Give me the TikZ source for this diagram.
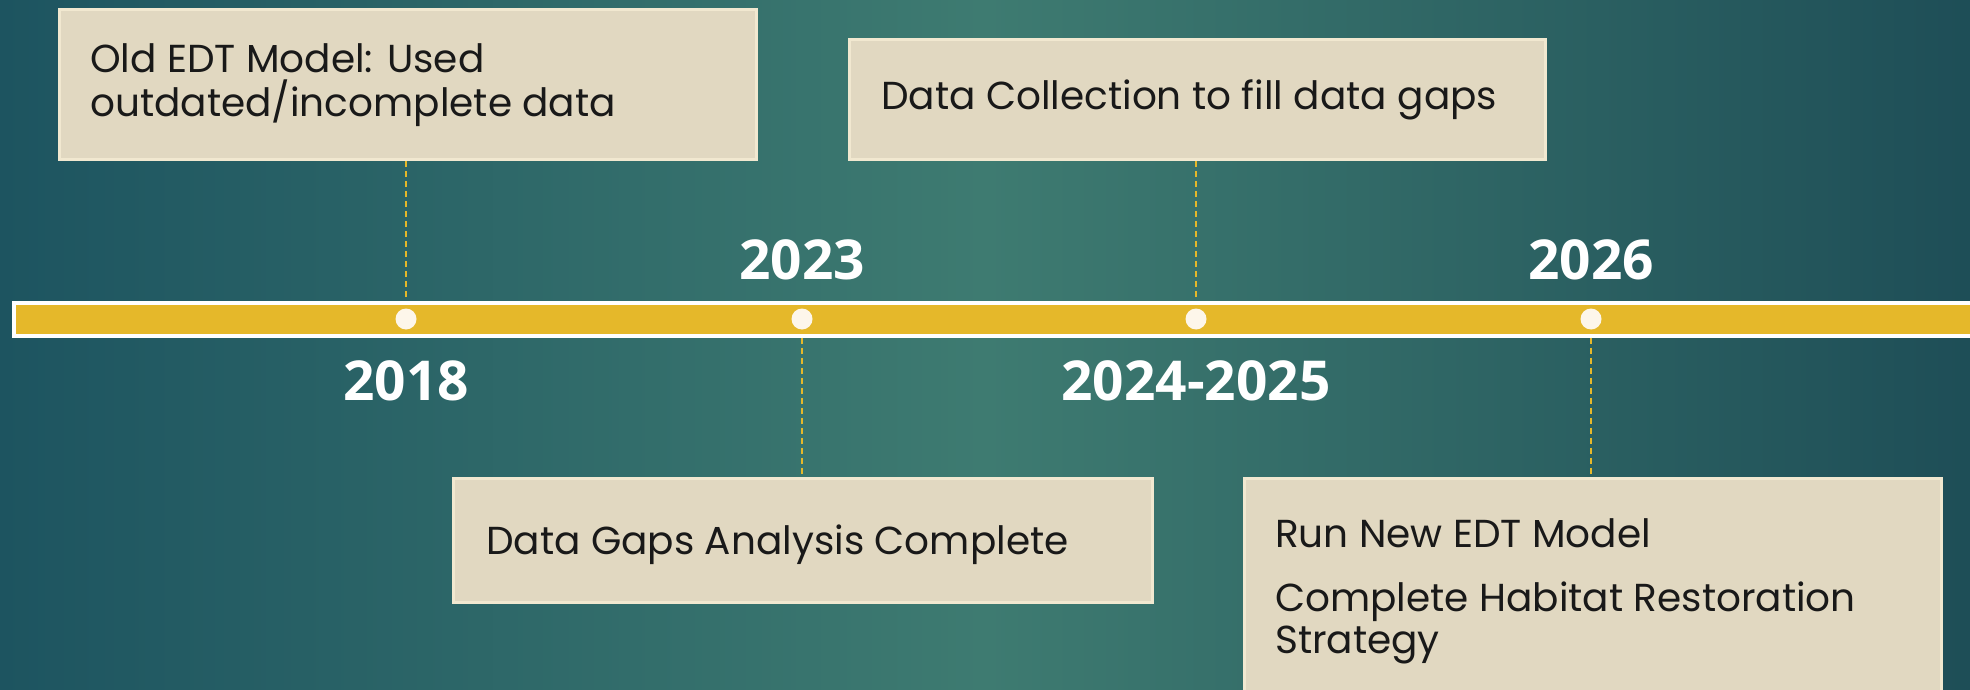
\documentclass[tikz,border=0pt]{standalone}
\usepackage{fontspec}
\newfontfamily\boxfont{Poppins}
\newfontfamily\yearfont{Open Sans}
\definecolor{bgdark}{HTML}{1D5460}
\definecolor{bgmid}{HTML}{3E7B71}
\definecolor{bgright}{HTML}{1E4E57}
\definecolor{gold}{HTML}{E5B82A}
\definecolor{beige}{HTML}{E1D8C1}
\definecolor{beigeedge}{HTML}{F1E8D0}
\definecolor{dotc}{HTML}{FDF6EA}
\tikzset{
  card/.style={draw=beigeedge, line width=3pt, fill=beige, inner sep=0pt, anchor=north west},
  cardtext/.style={font=\boxfont\fontsize{39}{47}\selectfont, text=black!90, anchor=base west, inner sep=0pt},
  year/.style={font=\yearfont\bfseries\fontsize{55}{60}\selectfont, text=white, anchor=base, inner sep=0pt},
  dotnode/.style={circle, fill=dotc, minimum size=21pt, inner sep=0pt},
  link/.style={draw=gold, line width=1.3pt, dash pattern=on 6pt off 4pt},
}
\begin{document}
\begin{tikzpicture}[x=1pt,y=-1pt]
\useasboundingbox (0,0) rectangle (1970,690);
\clip (0,0) rectangle (1970,690);
\shade[left color=bgdark, right color=bgright, middle color=bgmid] (0,0) rectangle (1970,690);
% cards
\node[card, minimum width=697pt, minimum height=150pt] (b1) at (58,8) {};
\node[card, minimum width=696pt, minimum height=120pt] (b2) at (848,38) {};
\node[card, minimum width=699pt, minimum height=124pt] (b3) at (452,477) {};
\node[card, minimum width=697pt, minimum height=240pt] (b4) at (1243,477) {};
% bar
\node[draw=white, line width=4pt, fill=gold, minimum width=1980pt, minimum height=33pt, inner sep=0pt, anchor=west] (bar) at (12,319) {};
% dots
\node[dotnode] (d1) at (406,319) {};
\node[dotnode] (d2) at (802,319) {};
\node[dotnode] (d3) at (1196,319) {};
\node[dotnode] (d4) at (1591,319) {};
% connectors
\draw[link] (b1.south -| d1) -- (d1 |- bar.north);
\draw[link] (b2.south -| d3) -- (d3 |- bar.north);
\draw[link] (d2 |- bar.south) -- (b3.north -| d2);
\draw[link] (d4 |- bar.south) -- (b4.north -| d4);
% texts
\node[cardtext] (t1a) at (90,73) {Old EDT Model: Used};
\node[cardtext] (t1b) at (90,117) {outdated/incomplete data};
\node[cardtext] (t2) at (881,110) {Data Collection to fill data gaps};
\node[cardtext] (t3) at (486,554) {Data Gaps Analysis Complete};
\node[cardtext] (t4a) at (1275,547) {Run New EDT Model};
\node[cardtext] (t4b) at (1275,611) {Complete Habitat Restoration};
\node[cardtext] (t4c) at (1275,653) {Strategy};
% years
\node[year] (y1) at (406,400) {2018};
\node[year] (y2) at (802,279) {2023};
\node[year] (y3) at (1196,400) {2024-2025};
\node[year] (y4) at (1591,279) {2026};
\end{tikzpicture}
\end{document}
